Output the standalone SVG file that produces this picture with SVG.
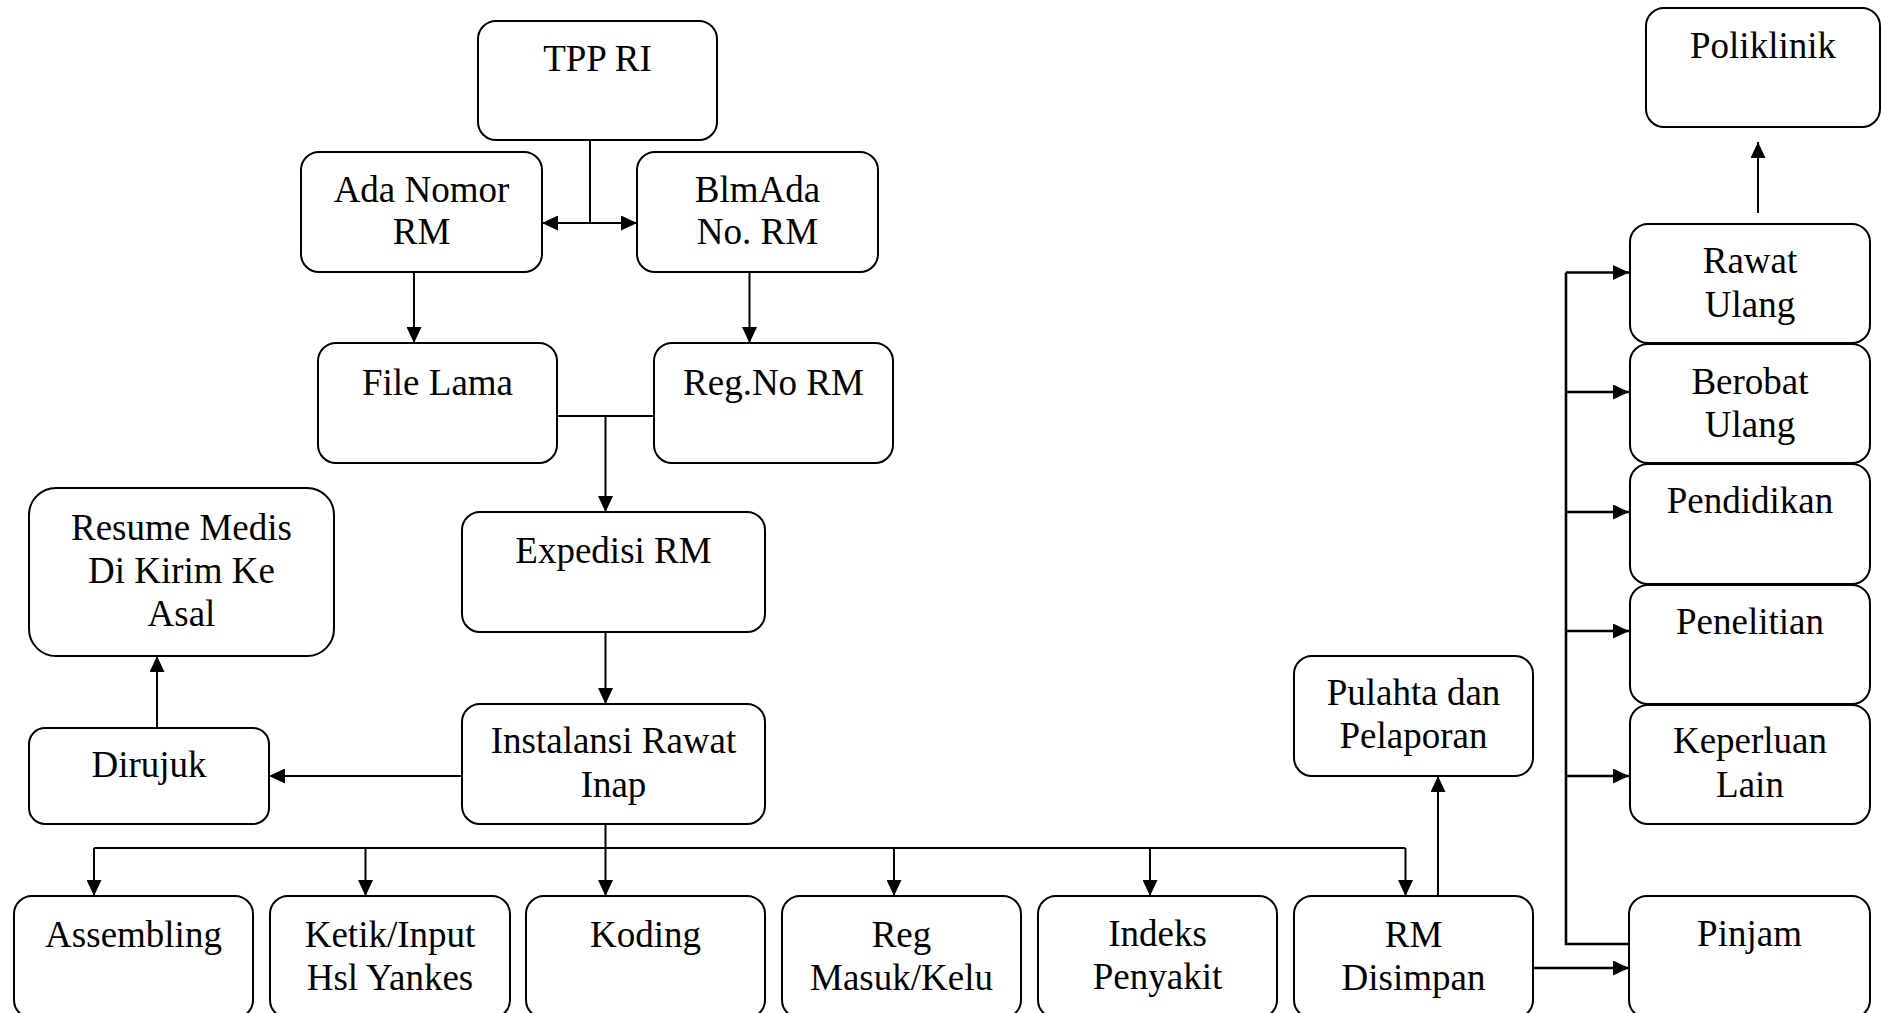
<svg xmlns="http://www.w3.org/2000/svg" width="1881" height="1013" viewBox="0 0 1881 1013">
  <style>
    .box { fill: #ffffff; stroke: #000000; stroke-width: 2; }
    .lbl { font-family: "Liberation Serif", "Times New Roman", serif; font-size: 37px; fill: #000000; text-anchor: middle; }
    .ln { fill: none; stroke: #000000; stroke-width: 2; }
    .arr { fill: none; stroke: #000000; stroke-width: 2; marker-end: url(#ah); }
    .arr2 { fill: none; stroke: #000000; stroke-width: 2; marker-start: url(#ah); marker-end: url(#ah); }
    .thick { stroke-width: 2.6; }
  </style>
  <defs>
    <marker id="ah" markerUnits="userSpaceOnUse" markerWidth="17" markerHeight="15" refX="16" refY="7.5" orient="auto-start-reverse">
      <path d="M0,0 L16,7.5 L0,15 z" fill="#000000"/>
    </marker>
  </defs>
  <rect width="1881" height="1013" fill="#ffffff"/>

  <!-- connectors -->
  <g id="connectors">
    <!-- TPP RI split -->
    <line class="ln" x1="590" y1="140" x2="590" y2="223"/>
    <line class="arr2" x1="542" y1="223" x2="637" y2="223"/>
    <line class="arr" x1="414" y1="272" x2="414" y2="343"/>
    <line class="arr" x1="749.5" y1="272" x2="749.5" y2="343"/>
    <!-- merge into Expedisi -->
    <line class="ln" x1="557" y1="416" x2="654" y2="416"/>
    <line class="arr" x1="605.5" y1="416" x2="605.5" y2="512"/>
    <line class="arr" x1="605.5" y1="632" x2="605.5" y2="704"/>
    <!-- Instalansi to Dirujuk, Dirujuk to Resume -->
    <line class="arr" x1="462" y1="776" x2="269" y2="776"/>
    <line class="arr" x1="157" y1="728" x2="157" y2="656"/>
    <!-- distribution bus -->
    <line class="ln" x1="605.5" y1="824" x2="605.5" y2="848"/>
    <line class="ln" x1="94" y1="848" x2="1405.5" y2="848"/>
    <line class="arr" x1="94" y1="848" x2="94" y2="896"/>
    <line class="arr" x1="365.5" y1="848" x2="365.5" y2="896"/>
    <line class="arr" x1="605.5" y1="848" x2="605.5" y2="896"/>
    <line class="arr" x1="894" y1="848" x2="894" y2="896"/>
    <line class="arr" x1="1150" y1="848" x2="1150" y2="896"/>
    <line class="arr" x1="1405.5" y1="848" x2="1405.5" y2="896"/>
    <!-- RM Disimpan outputs -->
    <line class="arr" x1="1438" y1="896" x2="1438" y2="776"/>
    <line class="arr thick" x1="1533" y1="968" x2="1629" y2="968"/>
    <!-- Pinjam trunk -->
    <polyline class="ln thick" points="1629,944 1566,944 1566,272.5"/>
    <line class="arr thick" x1="1566" y1="272.5" x2="1629" y2="272.5"/>
    <line class="arr thick" x1="1566" y1="392" x2="1629" y2="392"/>
    <line class="arr thick" x1="1566" y1="512" x2="1629" y2="512"/>
    <line class="arr thick" x1="1566" y1="631" x2="1629" y2="631"/>
    <line class="arr thick" x1="1566" y1="776" x2="1629" y2="776"/>
    <!-- Rawat Ulang to Poliklinik -->
    <line class="arr" x1="1758" y1="213" x2="1758" y2="142"/>
  </g>

  <!-- nodes -->
  <g id="tpp-ri">
    <rect class="box" x="478" y="21" width="239" height="119" rx="18"/>
    <text class="lbl" x="597.5" y="71">TPP RI</text>
  </g>
  <g id="ada-nomor-rm">
    <rect class="box" x="301" y="152" width="241" height="120" rx="18"/>
    <text class="lbl" x="421.5" y="202">Ada Nomor</text>
    <text class="lbl" x="421.5" y="244">RM</text>
  </g>
  <g id="blm-ada-no-rm">
    <rect class="box" x="637" y="152" width="241" height="120" rx="18"/>
    <text class="lbl" x="757.5" y="202">BlmAda</text>
    <text class="lbl" x="757.5" y="244">No. RM</text>
  </g>
  <g id="file-lama">
    <rect class="box" x="318" y="343" width="239" height="120" rx="18"/>
    <text class="lbl" x="437.5" y="395">File Lama</text>
  </g>
  <g id="reg-no-rm">
    <rect class="box" x="654" y="343" width="239" height="120" rx="18"/>
    <text class="lbl" x="773.5" y="395">Reg.No RM</text>
  </g>
  <g id="resume-medis">
    <rect class="box" x="29" y="488" width="305" height="168" rx="27"/>
    <text class="lbl" x="181.5" y="540">Resume Medis</text>
    <text class="lbl" x="181.5" y="583">Di Kirim Ke</text>
    <text class="lbl" x="181.5" y="626">Asal</text>
  </g>
  <g id="expedisi-rm">
    <rect class="box" x="462" y="512" width="303" height="120" rx="18"/>
    <text class="lbl" x="613.5" y="563">Expedisi RM</text>
  </g>
  <g id="dirujuk">
    <rect class="box" x="29" y="728" width="240" height="96" rx="16"/>
    <text class="lbl" x="149" y="777">Dirujuk</text>
  </g>
  <g id="instalansi-rawat-inap">
    <rect class="box" x="462" y="704" width="303" height="120" rx="18"/>
    <text class="lbl" x="613.5" y="753">Instalansi Rawat</text>
    <text class="lbl" x="613.5" y="797">Inap</text>
  </g>
  <g id="pulahta-dan-pelaporan">
    <rect class="box" x="1294" y="656" width="239" height="120" rx="18"/>
    <text class="lbl" x="1413.5" y="705">Pulahta dan</text>
    <text class="lbl" x="1413.5" y="748">Pelaporan</text>
  </g>
  <g id="assembling">
    <rect class="box" x="14" y="896" width="239" height="122" rx="18"/>
    <text class="lbl" x="133.5" y="947">Assembling</text>
  </g>
  <g id="ketik-input">
    <rect class="box" x="270" y="896" width="240" height="122" rx="18"/>
    <text class="lbl" x="390" y="947">Ketik/Input</text>
    <text class="lbl" x="390" y="990">Hsl Yankes</text>
  </g>
  <g id="koding">
    <rect class="box" x="526" y="896" width="239" height="122" rx="18"/>
    <text class="lbl" x="645.5" y="947">Koding</text>
  </g>
  <g id="reg-masuk-keluar">
    <rect class="box" x="782" y="896" width="239" height="122" rx="18"/>
    <text class="lbl" x="901.5" y="947">Reg</text>
    <text class="lbl" x="901.5" y="990">Masuk/Kelu</text>
  </g>
  <g id="indeks-penyakit">
    <rect class="box" x="1038" y="896" width="239" height="122" rx="18"/>
    <text class="lbl" x="1157.5" y="946">Indeks</text>
    <text class="lbl" x="1157.5" y="989">Penyakit</text>
  </g>
  <g id="rm-disimpan">
    <rect class="box" x="1294" y="896" width="239" height="122" rx="18"/>
    <text class="lbl" x="1413.5" y="947">RM</text>
    <text class="lbl" x="1413.5" y="990">Disimpan</text>
  </g>
  <g id="pinjam">
    <rect class="box" x="1629" y="896" width="241" height="122" rx="18"/>
    <text class="lbl" x="1749.5" y="946">Pinjam</text>
  </g>
  <g id="poliklinik">
    <rect class="box" x="1646" y="8" width="234" height="119" rx="18"/>
    <text class="lbl" x="1763" y="58">Poliklinik</text>
  </g>
  <g id="rawat-ulang">
    <rect class="box" x="1630" y="224" width="240" height="119" rx="18"/>
    <text class="lbl" x="1750" y="273">Rawat</text>
    <text class="lbl" x="1750" y="317">Ulang</text>
  </g>
  <g id="berobat-ulang">
    <rect class="box" x="1630" y="344" width="240" height="119" rx="18"/>
    <text class="lbl" x="1750" y="394">Berobat</text>
    <text class="lbl" x="1750" y="437">Ulang</text>
  </g>
  <g id="pendidikan">
    <rect class="box" x="1630" y="464" width="240" height="120" rx="18"/>
    <text class="lbl" x="1750" y="513">Pendidikan</text>
  </g>
  <g id="penelitian">
    <rect class="box" x="1630" y="585" width="240" height="119" rx="18"/>
    <text class="lbl" x="1750" y="634">Penelitian</text>
  </g>
  <g id="keperluan-lain">
    <rect class="box" x="1630" y="705" width="240" height="119" rx="18"/>
    <text class="lbl" x="1750" y="753">Keperluan</text>
    <text class="lbl" x="1750" y="797">Lain</text>
  </g>
</svg>
